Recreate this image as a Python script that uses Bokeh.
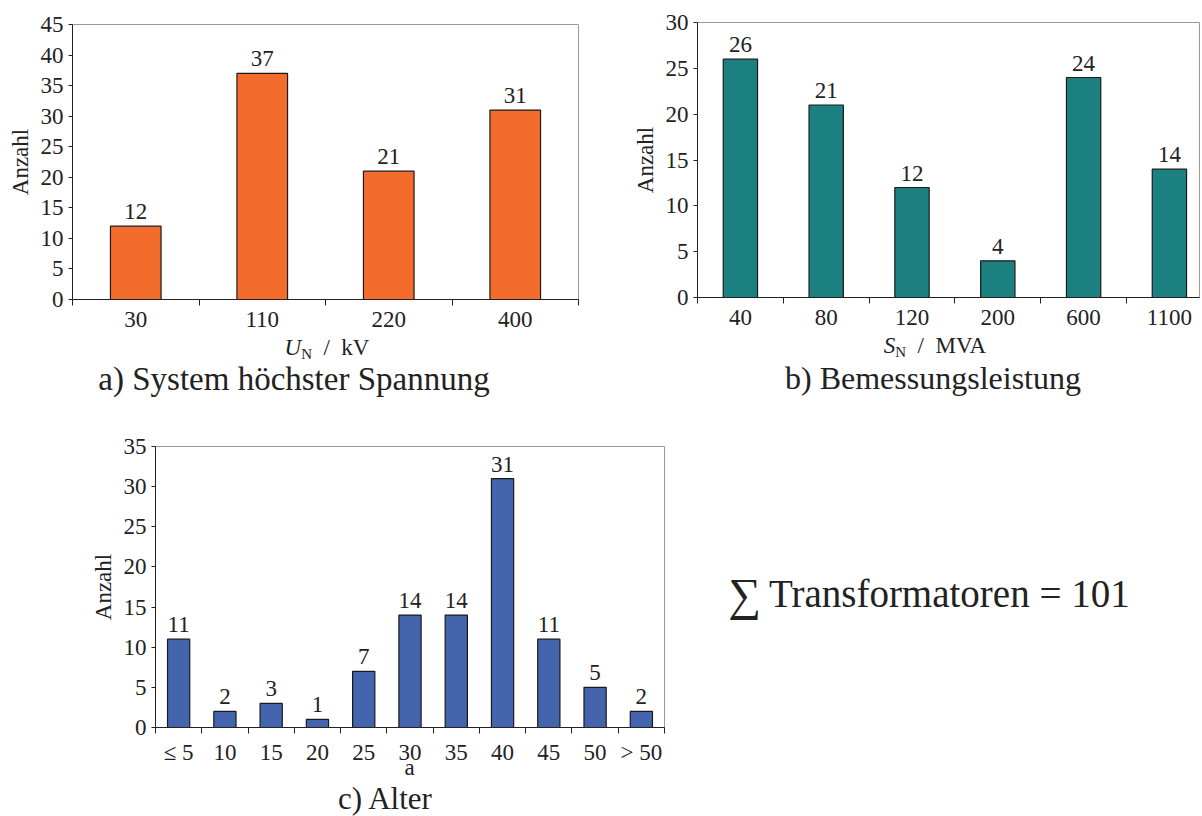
from bokeh.plotting import figure
from bokeh.models import Range1d, FixedTicker, Div, Spacer, ColumnDataSource, LabelSet
from bokeh.layouts import row, column
from bokeh.embed import file_html
from bokeh.resources import INLINE

# ---------------- data ----------------
a_categories = ["30", "110", "220", "400"]
a_counts = [12, 37, 21, 31]
a_yticks = [0, 5, 10, 15, 20, 25, 30, 35, 40, 45]

b_categories = ["40", "80", "120", "200", "600", "1100"]
b_counts = [26, 21, 12, 4, 24, 14]
b_yticks = [0, 5, 10, 15, 20, 25, 30]

c_categories = ["≤ 5", "10", "15", "20", "25", "30", "35", "40", "45", "50", "> 50"]
c_counts = [11, 2, 3, 1, 7, 14, 14, 31, 11, 5, 2]
c_yticks = [0, 5, 10, 15, 20, 25, 30, 35]

a_xlabel = "<i>U</i><span style='font-size:15px;vertical-align:-4px'>N</span>&nbsp; /&nbsp; kV"
b_xlabel = "<i>S</i><span style='font-size:15px;vertical-align:-4px'>N</span>&nbsp; /&nbsp; MVA"
c_xlabel = "a"
a_caption = "a) System höchster Spannung"
b_caption = "b) Bemessungsleistung"
c_caption = "c) Alter"
sum_text = "<span style='font-size:46px;vertical-align:-3px'>∑</span>&thinsp;Transformatoren = 101"

FONT = "Liberation Serif, DejaVu Serif, serif"
TXT = "#222222"


def bar_chart(cats, counts, yticks, color, bar_width, x_end, frame_w, frame_h,
              bl, br, bt, bb):
    n = len(cats)
    xs = [i + 0.5 for i in range(n)]
    src = ColumnDataSource(dict(x=xs, top=counts, label=[str(c) for c in counts]))
    p = figure(frame_width=frame_w, frame_height=frame_h,
               x_range=Range1d(0, x_end), y_range=Range1d(0, yticks[-1]),
               output_backend="svg", toolbar_location=None, tools="",
               min_border_left=bl, min_border_right=br,
               min_border_top=bt, min_border_bottom=bb)
    p.vbar(x="x", top="top", width=bar_width, bottom=0, source=src,
           fill_color=color, line_color="#1a1a1a", line_width=1.2)
    labels = LabelSet(x="x", y="top", text="label", source=src,
                      text_align="center", text_baseline="alphabetic",
                      y_offset=7, text_font=FONT,
                      text_font_size="23px", text_color=TXT)
    p.add_layout(labels)
    p.xgrid.visible = False
    p.ygrid.visible = False
    p.outline_line_color = "#9a9a9a"
    p.outline_line_width = 1
    p.background_fill_color = "white"
    p.border_fill_color = "white"

    xa = p.xaxis[0]
    xa.ticker = FixedTicker(ticks=xs, minor_ticks=list(range(n + 1)))
    xa.major_label_overrides = {x: c for x, c in zip(xs, cats)}
    xa.major_tick_out = 0
    xa.major_tick_in = 0
    xa.major_tick_line_color = None
    xa.minor_tick_out = 6
    xa.minor_tick_in = 0
    xa.minor_tick_line_color = "#222222"
    xa.minor_tick_line_width = 1
    xa.major_label_standoff = 6
    xa.major_label_text_font = FONT
    xa.major_label_text_font_size = "23px"
    xa.major_label_text_color = TXT
    xa.axis_line_color = "#222222"
    xa.axis_line_width = 1

    ya = p.yaxis[0]
    ya.ticker = FixedTicker(ticks=yticks, minor_ticks=[])
    ya.major_tick_out = 4
    ya.major_tick_in = 0
    ya.major_tick_line_color = "#222222"
    ya.minor_tick_line_color = None
    ya.major_label_standoff = 5
    ya.major_label_text_font = FONT
    ya.major_label_text_font_size = "23px"
    ya.major_label_text_color = TXT
    ya.axis_line_color = "#222222"
    ya.axis_line_width = 1
    ya.axis_label = "Anzahl"
    ya.axis_label_text_font = FONT
    ya.axis_label_text_font_size = "23px"
    ya.axis_label_text_font_style = "normal"
    ya.axis_label_text_color = TXT
    ya.axis_label_standoff = 5
    return p


def text_div(html, w, h, size, lh):
    return Div(text=html, width=w, height=h, margin=0,
               styles={"font-family": FONT, "font-size": f"{size}px",
                       "line-height": f"{lh}px", "text-align": "center",
                       "color": TXT, "overflow": "visible",
                       "white-space": "nowrap"})


def sp(w, h):
    return Spacer(width=w, height=h, margin=0)


fa = bar_chart(a_categories, a_counts, a_yticks, "#F36C2B", 0.4, 4, 506, 275, 72, 47, 24, 36)
fb = bar_chart(b_categories, b_counts, b_yticks, "#1C8081", 0.4, 502 / 85.8, 502, 275, 72, 1, 22, 36)
fc = bar_chart(c_categories, c_counts, c_yticks, "#4464AE", 0.48, 11, 509, 281, 72, 10, 47, 36)

col_a = column(
    fa,
    row(sp(74, 24), text_div(a_xlabel, 506, 24, 23, 26), margin=0),
    row(sp(13, 40), text_div(a_caption, 562, 40, 33, 40), margin=0),
    margin=0,
)
col_b = column(
    fb,
    row(sp(72, 24), text_div(b_xlabel, 476, 24, 23, 26), margin=0),
    row(sp(58, 42), text_div(b_caption, 500, 42, 32, 42), margin=0),
    margin=0,
)
col_c = column(
    fc,
    row(sp(72, 15), text_div(c_xlabel, 509, 15, 23, 2.5), margin=0),
    row(sp(102, 34), text_div(c_caption, 400, 34, 31, 34), margin=0),
    margin=0,
)
col_sum = column(sp(510, 175), text_div(sum_text, 510, 40, 39, 40), margin=0)

layout = column(
    row(col_a, col_b, margin=0),
    row(sp(83, 412), col_c, col_sum, margin=0),
    margin=0,
)

open("out.html", "w").write(file_html(layout, INLINE, title="Transformatoren"))
